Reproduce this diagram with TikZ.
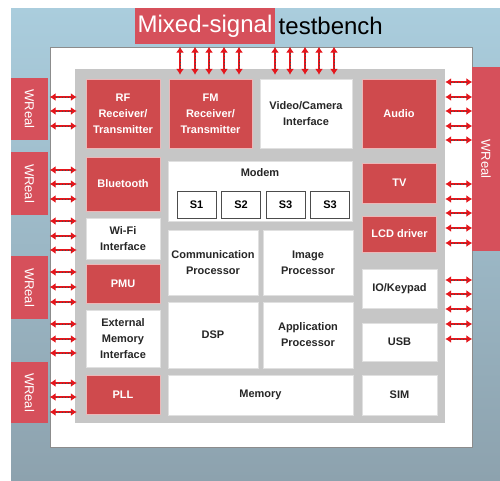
\documentclass[tikz,border=0pt]{standalone}
\usepackage{fontspec}
\setmainfont{Liberation Sans}
\usetikzlibrary{arrows.meta,positioning}
\definecolor{tbblue}{HTML}{AACDDD}
\definecolor{tbgray}{HTML}{8DA2AE}
\definecolor{blkred}{HTML}{CF4A4D}
\definecolor{wrred}{HTML}{D6505B}
\definecolor{sigred}{HTML}{E5161C}
\definecolor{chipgray}{HTML}{C6C6C6}

\begin{document}
\begin{tikzpicture}[x=1pt,y=-1pt,
  blk/.style={rectangle,fill=white,draw=black!12,inner sep=1pt,align=center,font=\fontsize{11}{16}\selectfont\bfseries,text=black!85},
  hot/.style={blk,fill=blkred,draw=blkred!40,line width=0.8pt,text=white},
  sz/.style 2 args={minimum width=#1pt,minimum height=#2pt},
  sub/.style={rectangle,draw=black!70,line width=0.8pt,fill=white,sz={39}{27},font=\fontsize{11}{13}\selectfont\bfseries},
  wreal/.style={rectangle,fill=wrred,text=white,font=\fontsize{13}{15}\selectfont,inner sep=0pt,rotate=-90},
  sig/.style={{Latex[length=6pt,width=8pt]}-{Latex[length=6pt,width=8pt]},line width=2.2pt,sigred,
    postaction={draw=black!70,-,line width=0.4pt,dash pattern=on 0.5pt off 2.5pt,shorten >=6pt,shorten <=6pt}}
]
\useasboundingbox (0,0) rectangle (500,480);
\shade[top color=tbblue,bottom color=tbgray] (11,8) rectangle (500,480);

% testbench frame and chip
\node[fill=white,draw=black!45,line width=0.6pt,sz={422}{400}] (frame) at (261,247) {};
\node[fill=chipgray,sz={370}{354}] (chip) at (260,246) {};

\node[fill=wrred,text=white,sz={140}{36},inner sep=0pt,font=\fontsize{24}{26}\selectfont] (mixed) at (205,26) {Mixed-signal};
\node[right=0pt of mixed,font=\fontsize{24}{26}\selectfont] (tbname) {testbench};

% left column
\node[hot,sz={74}{69}] (rf) at (123,113.5) {RF\\Receiver/\\Transmitter};
\node[hot,sz={74}{54}] (bt) at (123,184) {Bluetooth};
\node[blk,sz={74}{41}] (wifi) at (123,238.5) {Wi-Fi\\Interface};
\node[hot,sz={74}{39}] (pmu) at (123,283.5) {PMU};
\node[blk,sz={74}{57}] (extmem) at (123,338.5) {External\\Memory\\Interface};
\node[hot,sz={74}{39}] (pll) at (123,394.5) {PLL};

% middle
\node[hot,sz={83}{69}] (fm) at (210.5,113.5) {FM\\Receiver/\\Transmitter};
\node[blk,sz={92}{69}] (video) at (306,113.5) {Video/Camera\\Interface};
\node[blk,sz={184}{60}] (modem) at (260,191) {};
\node[font=\fontsize{11}{13}\selectfont\bfseries,text=black!85] (modemname) at (260,173) {Modem};
\foreach \x/\s/\n in {196.5/S1/1,241/S2/2,285.5/S3/3,330/S3/4}{\node[sub] (s\n) at (\x,204.5) {\s};}
\node[blk,sz={90}{65}] (comm) at (213,262.5) {Communication\\Processor};
\node[blk,sz={90}{65}] (image) at (308,262.5) {Image\\Processor};
\node[blk,sz={90}{66}] (dsp) at (213,335) {DSP};
\node[blk,sz={90}{66}] (app) at (308,335) {Application\\Processor};
\node[blk,sz={185}{40}] (memory) at (260.5,395) {Memory};

% right column
\node[hot,sz={74}{69}] (audio) at (399,113.5) {Audio};
\node[hot,sz={74}{40}] (tv) at (399.5,183) {TV};
\node[hot,sz={74}{36}] (lcd) at (399.5,234) {LCD driver};
\node[blk,sz={75}{39}] (io) at (399.5,288.5) {IO/Keypad};
\node[blk,sz={75}{38}] (usb) at (399.5,342) {USB};
\node[blk,sz={75}{40}] (sim) at (399.5,395) {SIM};

% WReal models
\node[wreal,sz={62}{37}] (wr1) at (29.5,109) {WReal};
\node[wreal,sz={63}{37}] (wr2) at (29.5,183.5) {WReal};
\node[wreal,sz={63}{37}] (wr3) at (29.5,287.5) {WReal};
\node[wreal,sz={61}{37}] (wr4) at (29.5,392.5) {WReal};
\node[wreal,sz={184}{28}] (wr5) at (486,159) {WReal};

% signals
\foreach \x in {180,195,209,224,239,275,290,305,319,334}
  \draw[sig] (frame.north -| \x,0) -- ([yshift=-6pt]chip.north -| \x,0);
\foreach \y in {97,111,126,170,184,199,221,236,250,272,287,302,324,339,353,383,397,412}
  \draw[sig] (frame.west |- 0,\y) -- ([xshift=2pt]chip.west |- 0,\y);
\foreach \y in {82,97,111,126,140,184,199,213,228,243,280,294,309,324,339}
  \draw[sig] (chip.east |- 0,\y) -- (frame.east |- 0,\y);
\end{tikzpicture}
\end{document}
